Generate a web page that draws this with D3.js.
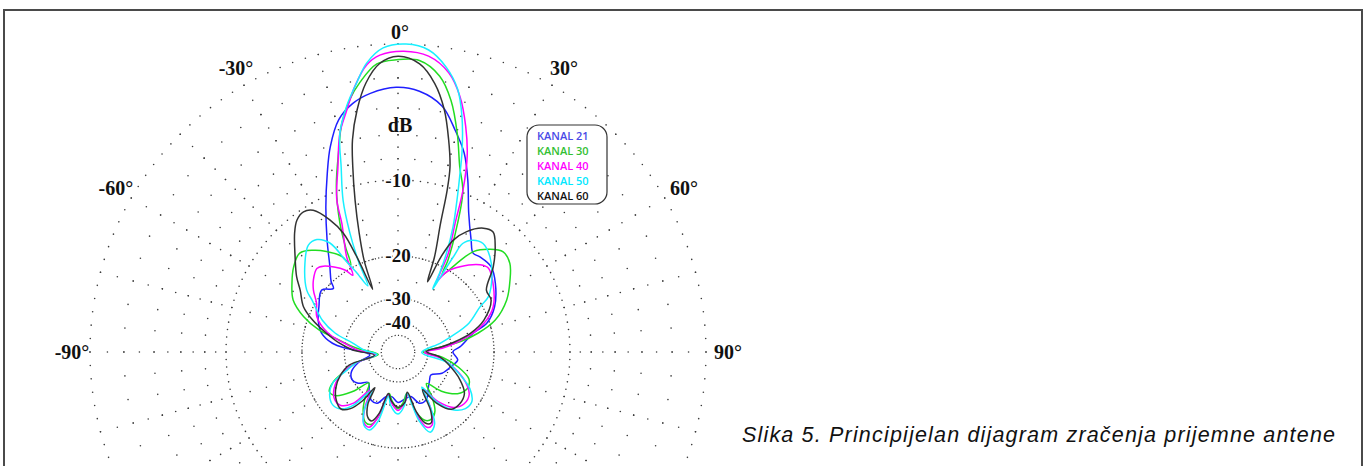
<!DOCTYPE html>
<html lang="en">
<head>
<meta charset="UTF-8">
<title>Dijagram zracenja</title>
<script src="https://d3js.org/d3.v7.min.js"></script>
<style>
    body { margin: 0; background: #fff; }
    svg { display: block; }
    .lbl { font-family: "Liberation Serif", serif; font-size: 20px; font-weight: bold; fill: #111; }
    .ring-lbl { font-size: 19px; paint-order: stroke; stroke: #fff; stroke-width: 3px; }
    .trace { fill: none; stroke-width: 1.5px; stroke-linejoin: round; }
    .legend text { font-family: "Open Sans", sans-serif; font-size: 11px; font-weight: 600; }
    .caption { font-family: "Liberation Sans", Arial, sans-serif; font-style: italic; font-size: 21.5px; fill: #111; }
</style>
</head>
<body>
<script>
// kanali i boje
const kanali = ["KANAL 21", "KANAL 30", "KANAL 40", "KANAL 50", "KANAL 60"];
const bojeLinija = ["#1f1fff", "#22dd22", "#ff00ff", "#19f0ff", "#333333"];
const bojeTeksta = ["#4a4ae6", "#33c033", "#ff00ff", "#00e8ff", "#111111"];

// [kut u stupnjevima, razina u dB] ocitano sa slike
const kanal21 = [[-180,-31],[-172,-33],[-165,-32.5],[-158,-29.5],[-151,-29.5],[-144,-31.5],[-136,-34],[-128,-31],[-121,-30],[-113,-31],[-105,-34.5],[-96,-41],[-89.5,-36.7],[-85.9,-30.5],[-82.4,-26.4],[-76.1,-23.4],[-68.2,-21.9],[-60.2,-20.9],[-51,-19.6],[-45.5,-21],[-43.5,-19.8],[-38.6,-17.8],[-32.4,-14.5],[-26.4,-11],[-21.6,-8.1],[-18.3,-6.1],[-14.3,-4.3],[-10.3,-3.4],[-6.1,-2.9],[-0.4,-2.6],[4.7,-2.8],[10.2,-3.6],[14.5,-5.1],[18.4,-6.6],[22.1,-8.7],[27,-11.7],[33.1,-14.3],[37.2,-15.6],[40.7,-15.4],[47.5,-15.3],[54.8,-16.3],[64.9,-18.2],[72.1,-20.5],[76,-23.7],[85.1,-27.4],[89.7,-29.6],[97.6,-28],[105.5,-29.6],[115.8,-31.6],[125,-35],[132,-34],[138.6,-32.6],[149.5,-29.4],[157.2,-29.4],[164.1,-32.5],[172,-32]];

const kanal30 = [[-180,-29],[-173,-31.5],[-168,-34],[-164,-27],[-160,-23.8],[-155,-23.7],[-149,-26],[-143,-30],[-137,-34],[-131,-28],[-125,-24],[-120,-23.3],[-115,-25],[-110,-29],[-104,-34],[-97,-47],[-84.8,-34.5],[-78.5,-28],[-74.4,-22.7],[-69.5,-19.2],[-63.6,-16.6],[-57.1,-15.3],[-50.8,-14.2],[-44.8,-13.6],[-39.7,-14.5],[-35.4,-15.7],[-30.5,-17.5],[-28.5,-19.5],[-26.5,-16.5],[-24.3,-13.4],[-20.5,-9.6],[-16.3,-6.5],[-13.8,-4.6],[-10.8,-3.1],[-8,-2.1],[-4.2,-1.1],[-0.3,-0.9],[4.2,-0.9],[8.6,-1.7],[11.9,-3.1],[15.2,-5.3],[18.4,-7.8],[22,-9.9],[25.8,-14.6],[28.5,-18.5],[29.8,-21.4],[33.5,-18.3],[36.9,-15.4],[41.8,-13.8],[46.4,-12.9],[51.6,-13.2],[57.3,-14.4],[64.4,-16.1],[71.8,-18.9],[76.8,-22.7],[80.6,-27.3],[83.1,-33.3],[90,-43],[97,-33],[104,-27.5],[111,-24],[118,-23.5],[125,-24.8],[132,-28.5],[138,-34],[143,-29],[148,-25.5],[153,-24.3],[158,-24.5],[163,-27],[168,-34],[174,-31]];

const kanal40 = [[-180,-28.5],[-172,-31],[-167,-33.5],[-163,-26],[-159,-23],[-154,-23.5],[-149,-27],[-144,-32],[-139,-26],[-133,-23.5],[-127,-23.3],[-120,-24.5],[-112,-27.5],[-105,-33],[-97,-45],[-87.2,-34.6],[-80.5,-29.7],[-74.8,-24.8],[-66.5,-21.4],[-59.1,-20.2],[-53.8,-18.5],[-49.6,-17.5],[-44.2,-16.7],[-41,-17.1],[-32.9,-19.7],[-30.5,-21.3],[-28.3,-17.9],[-23.6,-13.5],[-21.9,-10.8],[-18,-7.9],[-14.9,-5.3],[-12,-3.8],[-9.2,-2.3],[-6.2,-1.1],[-3.5,-0.6],[1.1,-0.4],[5.9,-0.6],[10.3,-1.4],[13.6,-2.7],[16.7,-4.6],[19.5,-6.8],[21.9,-9.8],[23.9,-13.4],[27,-17.5],[28.1,-21.3],[28.8,-23],[31.2,-20.4],[36,-18.4],[43.3,-16.2],[47.2,-15.7],[55.6,-16.8],[64.6,-18.4],[70.1,-20.3],[76,-23.7],[81.3,-28.8],[85.2,-33.3],[91,-42],[98,-34],[106,-28.5],[114,-24.5],[121,-22.5],[128,-22.3],[135,-23.5],[141,-27],[146,-33],[150,-26.5],[155,-23],[159,-23],[163,-26],[167,-33.5],[172,-31]];

const kanal50 = [[-180,-27.5],[-172,-30],[-168,-33],[-164,-25],[-160,-22.5],[-155,-23],[-150,-26],[-146,-32.5],[-140,-25.5],[-135,-23],[-129,-22.3],[-122,-23],[-115.6,-24.8],[-110,-29.5],[-104,-34],[-97,-46],[-87,-38],[-78.8,-32.6],[-73.2,-26.5],[-67.2,-22.7],[-58.8,-19.2],[-55.8,-17.6],[-46.4,-15],[-40,-13.6],[-35.8,-13.7],[-32,-15],[-29.6,-18.7],[-27.7,-21],[-24.5,-24.8],[-23.5,-19.3],[-22,-15],[-19.9,-11.1],[-17.1,-8],[-14.9,-5.3],[-11.8,-3.5],[-8.7,-2.1],[-6.2,-1],[-2.8,-0.2],[1.5,0],[5.8,-0.25],[9.6,-1.1],[12.8,-2.3],[15.2,-4],[17.6,-6.4],[19.4,-8.7],[21.2,-10.9],[23.7,-13.9],[26.1,-17.6],[27.8,-21.3],[28.8,-25],[29.5,-21.9],[30.2,-17.6],[30.8,-15.3],[33.9,-14.2],[38.1,-13.8],[44,-14.5],[51.2,-16.1],[58.5,-18.3],[61.1,-20.4],[67.9,-23.9],[73.9,-29.5],[78.3,-33.8],[91,-44],[102,-31],[110,-26.5],[117,-23],[124,-21.3],[130,-21.5],[136,-23],[142,-27],[146,-34],[149,-28],[153,-23],[158,-21.8],[163,-25],[168,-34],[173,-30]];

const kanal60 = [[-180,-29.5],[-172,-31.5],[-167,-34],[-163,-27],[-159,-24.5],[-155,-25],[-150,-28],[-147,-34],[-144,-28],[-140,-24.5],[-135,-23],[-128,-23.5],[-120,-25],[-112,-27.5],[-105,-31],[-98,-44],[-87.5,-32.9],[-81.3,-28.2],[-75.2,-24.4],[-69.5,-20.9],[-64.4,-18.5],[-57.7,-16.8],[-53.4,-15.3],[-47.2,-13.5],[-41,-11.5],[-37.5,-10.6],[-34,-10.3],[-30.9,-10.7],[-27.3,-12.5],[-24.7,-14.7],[-23.4,-18.7],[-22,-26],[-20.3,-19.7],[-18.1,-15.5],[-15.8,-11.5],[-13.7,-8.2],[-12.1,-6],[-9.6,-3.9],[-6.8,-2.2],[-3.7,-1.1],[0,-0.7],[4.3,-1.1],[7.8,-2.2],[10.8,-3.8],[13.4,-5.9],[15.7,-8.1],[16.9,-10.3],[18.3,-14.1],[21,-19],[22.8,-24],[24.3,-18.6],[26.3,-15.5],[29.7,-13.7],[34.6,-12.3],[38.4,-12],[42.6,-13.1],[48.2,-15.1],[55,-18],[60.8,-18.2],[69.6,-20.8],[75.4,-24.2],[79.8,-28.7],[83.1,-33.3],[89,-41],[97,-34],[104,-30.5],[114,-26],[122,-23.5],[130,-23],[137,-23.5],[143,-27],[147,-33],[151,-26],[155,-23.5],[159,-24],[163,-27.5],[167,-34.5],[172,-31]];

const serije = [kanal21, kanal30, kanal40, kanal50, kanal60];

// mreza
const kutoviOznaka = [-90, -60, -30, 0, 30, 60, 90];
const oznakeDb = [-10, -20, -30, -40];
const gusteKruznice = [-20, -30, -40, -50];
const tockeNaZrakama = [0, -1, -2, -3, -4, -5, -6, -7, -8, -9, -10, -12, -14, -16, -18, -20, -25];
const kruzniceTockaste = [[0, 2.5], [-2, 5], [-4, 5], [-6, 5], [-8, 5], [-10, 2.5]];
const naslov = "Slika 5. Principijelan dijagram zračenja prijemne antene";

const width = 1365, height = 466;
const cx = 398, cy = 352, R = 308;

const svg = d3.select("body").append("svg")
    .attr("width", width)
    .attr("height", height);

// okvir
svg.append("rect")
    .attr("x", 4).attr("y", 10)
    .attr("width", 1358).attr("height", 480)
    .attr("fill", "none")
    .attr("stroke", "#4a4a4a")
    .attr("stroke-width", 2);

// ARRL log skala: svaka 2 dB je faktor 0.89 po radijusu
const rScale = d3.scalePow()
    .exponent(-Math.log(0.89) / 2 * 20 / Math.LN10)
    .domain([0, 1])
    .range([0, R]);
const rad = dB => rScale(Math.pow(10, dB / 20));
const aScale = d3.scaleLinear().domain([-180, 180]).range([-Math.PI, Math.PI]);

const g = svg.append("g").attr("transform", `translate(${cx},${cy})`);
const px = (deg, dB) => rad(dB) * Math.sin(aScale(deg));
const py = (deg, dB) => -rad(dB) * Math.cos(aScale(deg));

const grid = g.append("g").attr("fill", "#3a3a3a");

// tocke na zrakama svakih 15 stupnjeva
const zrake = d3.range(-180, 180, 15);
const zrakeTocke = zrake.flatMap(a => tockeNaZrakama.map(db => [a, db]));
grid.selectAll("circle.z")
    .data(zrakeTocke)
    .enter().append("circle")
    .attr("class", "z")
    .attr("cx", d => px(d[0], d[1]))
    .attr("cy", d => py(d[0], d[1]))
    .attr("r", 0.8);

// tockaste kruznice
const krTocke = kruzniceTockaste.flatMap(([db, step]) =>
    d3.range(-180, 180, step).map(a => [a, db]));
grid.selectAll("circle.k")
    .data(krTocke)
    .enter().append("circle")
    .attr("class", "k")
    .attr("cx", d => px(d[0], d[1]))
    .attr("cy", d => py(d[0], d[1]))
    .attr("r", 0.8);

// guste kruznice
g.selectAll("circle.gusta")
    .data(gusteKruznice)
    .enter().append("circle")
    .attr("class", "gusta")
    .attr("r", d => rad(d))
    .attr("fill", "none")
    .attr("stroke", "#3a3a3a")
    .attr("stroke-width", 1.3)
    .attr("stroke-dasharray", "1.2 2.2");

// krivulje
const line = d3.lineRadial()
    .angle(d => aScale(d[0]))
    .radius(d => rad(d[1]))
    .curve(d3.curveCatmullRomClosed.alpha(0.5));

g.selectAll("path.trace")
    .data(serije)
    .enter().append("path")
    .attr("class", "trace")
    .attr("stroke", (d, i) => bojeLinija[i])
    .attr("d", line);

// oznake dB
g.selectAll("text.ring-lbl")
    .data(oznakeDb)
    .enter().append("text")
    .attr("class", "lbl ring-lbl")
    .attr("x", 0)
    .attr("y", d => -rad(d))
    .attr("text-anchor", "middle")
    .attr("dominant-baseline", "central")
    .text(d => d);

g.append("text")
    .attr("class", "lbl")
    .attr("x", 2).attr("y", 125 - cy)
    .attr("text-anchor", "middle")
    .attr("dominant-baseline", "central")
    .text("dB");

// oznake kutova
g.selectAll("text.kut")
    .data(kutoviOznaka)
    .enter().append("text")
    .attr("class", "lbl kut")
    .attr("x", d => (d === 0 ? 320 : 328) * Math.sin(aScale(d)) + 2)
    .attr("y", d => -(d === 0 ? 320 : 328) * Math.cos(aScale(d)))
    .attr("text-anchor", "middle")
    .attr("dominant-baseline", "central")
    .text(d => d + "°");

// legenda
const leg = svg.append("g").attr("class", "legend");
leg.append("rect")
    .attr("x", 527).attr("y", 125)
    .attr("width", 80).attr("height", 79)
    .attr("rx", 12)
    .attr("fill", "#fff")
    .attr("stroke", "#333")
    .attr("stroke-width", 1.2);
leg.selectAll("text")
    .data(kanali)
    .enter().append("text")
    .attr("x", 537)
    .attr("y", (d, i) => 139.5 + i * 15.2)
    .attr("fill", (d, i) => bojeTeksta[i])
    .text(d => d);

// naslov
svg.append("text")
    .attr("class", "caption")
    .attr("x", 742).attr("y", 442)
    .attr("textLength", 593)
    .attr("lengthAdjust", "spacing")
    .text(naslov);
</script>
</body>
</html>
